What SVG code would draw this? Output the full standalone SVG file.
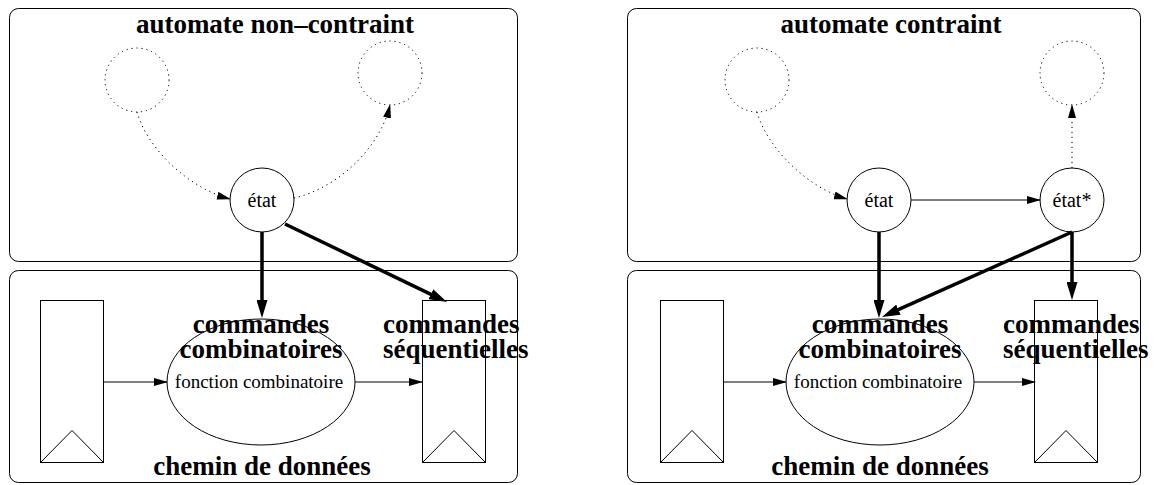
<svg xmlns="http://www.w3.org/2000/svg" width="1161" height="485" viewBox="0 0 1161 485">
  <style>
    .frame { fill: none; stroke: #000; stroke-width: 1; }
    .state { fill: #fff; stroke: #000; stroke-width: 1; }
    .ghost { fill: none; stroke: #000; stroke-width: 1; stroke-dasharray: 1.2 3.8; }
    .thin { fill: none; stroke: #000; stroke-width: 1; }
    .dot { fill: none; stroke: #000; stroke-width: 1; stroke-dasharray: 1.2 3.8; }
    .thick { fill: none; stroke: #000; stroke-width: 3.5; }
    .title { font-family: "Liberation Serif", "Times New Roman", serif; font-weight: bold; font-size: 27px; text-anchor: middle; }
    .big { font-family: "Liberation Serif", "Times New Roman", serif; font-weight: bold; font-size: 27px; }
    .lbl { font-family: "Liberation Serif", "Times New Roman", serif; font-size: 20px; text-anchor: middle; }
    .fn { font-family: "Liberation Serif", "Times New Roman", serif; font-size: 19px; text-anchor: middle; }
  </style>
  <defs>
    <marker id="arrow" markerUnits="userSpaceOnUse" markerWidth="14" markerHeight="8" refX="13" refY="4" orient="auto">
      <path d="M0,0 L14,4 L0,8 Z" fill="#000"/>
    </marker>
    <marker id="arrowBold" markerUnits="userSpaceOnUse" markerWidth="18" markerHeight="11" refX="10" refY="5.5" orient="auto">
      <path d="M0,0 L18,5.5 L0,11 Z" fill="#000"/>
    </marker>
    <g id="register">
      <rect x="0" y="0" width="63" height="162" fill="#fff" stroke="#000" stroke-width="1"/>
      <path d="M0,162 L31.5,130 L63,162" fill="none" stroke="#000" stroke-width="1"/>
    </g>
  </defs>

  <!-- ===== left: unconstrained controller ===== -->
  <g id="ctrl-left">
    <rect class="frame" x="9.5" y="8.5" width="508" height="253" rx="9"/>
    <text class="title" x="275" y="33">automate non–contraint</text>
  </g>
  <g id="dp-left">
    <rect class="frame" x="9.5" y="270.5" width="508" height="212" rx="9"/>
    <text class="title" x="262" y="475">chemin de données</text>
  </g>
  <g id="prev-left"><circle class="ghost" cx="137" cy="80" r="32"/></g>
  <g id="next-left"><circle class="ghost" cx="390" cy="73" r="32"/></g>
  <g id="etat-left">
    <circle class="state" cx="262" cy="200" r="32"/>
    <text class="lbl" x="262" y="207">état</text>
  </g>
  <g id="reg-in-left"><use href="#register" x="40.5" y="300.5"/></g>
  <g id="comb-left">
    <ellipse class="state" cx="261" cy="382" rx="94" ry="63"/>
    <text class="fn" x="259" y="388">fonction combinatoire</text>
  </g>
  <g id="reg-out-left"><use href="#register" x="422.5" y="300.5"/></g>
  <g id="cmd-comb-left">
    <text class="big" x="261" y="333" text-anchor="middle">commandes</text>
    <text class="big" x="261" y="358" text-anchor="middle">combinatoires</text>
  </g>
  <g id="cmd-seq-left">
    <text class="big" x="383" y="333">commandes</text>
    <text class="big" x="383" y="358">séquentielles</text>
  </g>

  <!-- ===== right: constrained controller ===== -->
  <g id="ctrl-right">
    <rect class="frame" x="627.5" y="8.5" width="513" height="253" rx="9"/>
    <text class="title" x="891" y="33">automate contraint</text>
  </g>
  <g id="dp-right">
    <rect class="frame" x="627.5" y="270.5" width="513" height="212" rx="9"/>
    <text class="title" x="880" y="475">chemin de données</text>
  </g>
  <g id="prev-right"><circle class="ghost" cx="757" cy="80" r="32"/></g>
  <g id="next-right"><circle class="ghost" cx="1072" cy="73" r="32"/></g>
  <g id="etat-right">
    <circle class="state" cx="879" cy="200" r="32"/>
    <text class="lbl" x="879" y="207">état</text>
  </g>
  <g id="etat-star">
    <circle class="state" cx="1072" cy="200" r="32"/>
    <text class="lbl" x="1072" y="207">état*</text>
  </g>
  <g id="reg-in-right"><use href="#register" x="660.5" y="300.5"/></g>
  <g id="comb-right">
    <ellipse class="state" cx="880" cy="382" rx="94" ry="63"/>
    <text class="fn" x="878" y="388">fonction combinatoire</text>
  </g>
  <g id="reg-out-right"><use href="#register" x="1034.5" y="300.5"/></g>
  <g id="cmd-comb-right">
    <text class="big" x="880" y="333" text-anchor="middle">commandes</text>
    <text class="big" x="880" y="358" text-anchor="middle">combinatoires</text>
  </g>
  <g id="cmd-seq-right">
    <text class="big" x="1003" y="333">commandes</text>
    <text class="big" x="1003" y="358">séquentielles</text>
  </g>

  <!-- ===== connectors ===== -->
  <g id="connectors">
    <!-- left -->
    <path class="dot" d="M137,112 C147,148 188,188 230,199" marker-end="url(#arrow)"/>
    <path class="dot" d="M294,198 C338,188 380,148 390,105" marker-end="url(#arrow)"/>
    <line class="thick" x1="262" y1="232" x2="262" y2="310" marker-end="url(#arrowBold)"/>
    <line class="thick" x1="285" y1="224" x2="439.8" y2="298.6" marker-end="url(#arrowBold)"/>
    <line class="thin" x1="104" y1="382" x2="167" y2="382" marker-end="url(#arrow)"/>
    <line class="thin" x1="355" y1="382" x2="422" y2="382" marker-end="url(#arrow)"/>
    <!-- right -->
    <path class="dot" d="M757,112 C767,148 808,188 847,199" marker-end="url(#arrow)"/>
    <line class="dot" x1="1072" y1="168" x2="1072" y2="105" marker-end="url(#arrow)"/>
    <line class="thin" x1="911" y1="200" x2="1040" y2="200" marker-end="url(#arrow)"/>
    <line class="thick" x1="879" y1="232" x2="879" y2="310" marker-end="url(#arrowBold)"/>
    <line class="thick" x1="1072" y1="232" x2="1072" y2="292" marker-end="url(#arrowBold)"/>
    <line class="thick" x1="1072" y1="232" x2="889.3" y2="313.7" marker-end="url(#arrowBold)"/>
    <line class="thin" x1="724" y1="382" x2="786" y2="382" marker-end="url(#arrow)"/>
    <line class="thin" x1="974" y1="382" x2="1035" y2="382" marker-end="url(#arrow)"/>
  </g>
</svg>
